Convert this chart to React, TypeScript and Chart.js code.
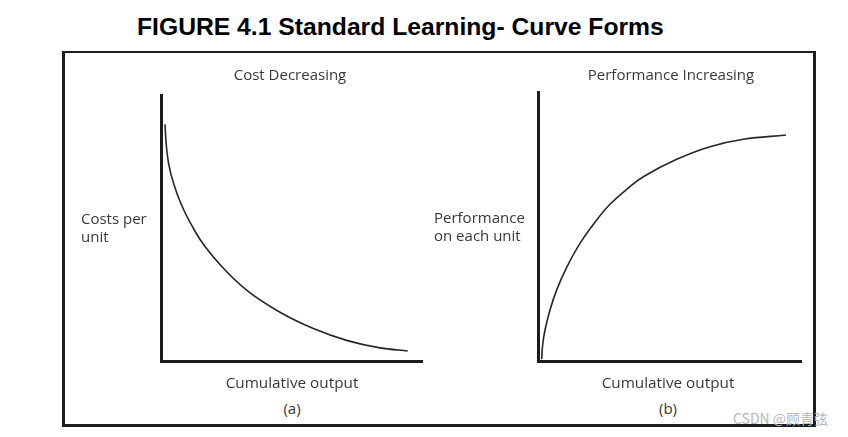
import React, { useEffect, useRef } from "react";
import { Chart, registerables } from "chart.js";

Chart.register(...registerables);

// Panel (a): cost per unit vs cumulative output (axis units 0–100)
const costX = [1.53, 1.95, 2.87, 5.67, 8.74, 12.34, 15.1, 22.76, 32.8, 45.6, 58.4, 71.1, 83.9, 94.5];
const costY = [88.98, 81.95, 74.44, 64.29, 56.77, 50.0, 45.49, 36.09, 26.65, 18.33, 12.19, 7.75, 4.93, 3.76];

// Panel (b): performance on each unit vs cumulative output
const perfX = [1.41, 1.79, 2.66, 4.56, 7.11, 10.91, 15.97, 22.32, 27.38, 33.84, 40.04, 52.74, 65.4, 78.06, 94.3];
const perfY = [0.63, 6.13, 11.52, 18.96, 26.43, 34.83, 43.75, 52.42, 58.25, 63.9, 68.51, 74.98, 79.67, 82.42, 84.01];

const TITLE = "FIGURE 4.1 Standard Learning- Curve Forms";
const panelTitles = ["Cost Decreasing", "Performance Increasing"];
const yLabels = [["Costs per", "unit"], ["Performance", "on each unit"]];
const xLabel = "Cumulative output";
const panelTags = ["(a)", "(b)"];

type Pad = { left: number; top: number; right: number; bottom: number };

function CurveChart({
  xs,
  ys,
  pad,
  style,
  monotone,
}: {
  xs: number[];
  ys: number[];
  pad: Pad;
  style: React.CSSProperties;
  monotone: boolean;
}) {
  const ref = useRef<HTMLCanvasElement | null>(null);
  useEffect(() => {
    if (!ref.current) return;
    const axisBorder = { display: true, width: 3, color: "#1c1c1c" };
    const grid = { display: false, drawTicks: false, tickLength: 0 };
    const chart = new Chart(ref.current, {
      type: "line",
      data: {
        datasets: [
          {
            data: xs.map((x, i) => ({ x, y: ys[i] })),
            borderColor: "#262626",
            borderWidth: 1.6,
            pointRadius: 0,
            fill: false,
            tension: 0.4,
            cubicInterpolationMode: monotone ? "monotone" : "default",
          },
        ],
      },
      options: {
        responsive: false,
        maintainAspectRatio: false,
        animation: false,
        layout: { padding: pad },
        plugins: { legend: { display: false }, tooltip: { enabled: false }, title: { display: false } },
        scales: {
          x: {
            type: "linear",
            min: 0,
            max: 100,
            grid,
            ticks: { display: false, padding: 0 },
            border: axisBorder,
          },
          y: {
            type: "linear",
            min: 0,
            max: 100,
            grid,
            ticks: { display: false, padding: 0 },
            border: axisBorder,
          },
        },
      },
    } as any);
    return () => chart.destroy();
  }, []);
  return <canvas ref={ref} width={300} height={300} style={{ position: "absolute", ...style }} />;
}

const labelFont = "'Open Sans', 'Noto Sans', sans-serif";
const labelColor = "#383838";

function Centered({ x, y, text, size = 15 }: { x: number; y: number; text: string; size?: number }) {
  return (
    <div
      style={{
        position: "absolute",
        left: x,
        top: y,
        transform: "translate(-50%, -50%)",
        whiteSpace: "nowrap",
        fontFamily: labelFont,
        fontSize: size,
        color: labelColor,
        lineHeight: 1,
      }}
    >
      {text}
    </div>
  );
}

export default function App() {
  return (
    <div
      style={{
        position: "absolute",
        left: 0,
        top: 0,
        width: 848,
        height: 437,
        background: "#fff",
        overflow: "hidden",
      }}
    >
      <div
        style={{
          position: "absolute",
          left: 137,
          top: 12,
          fontFamily: "'Liberation Sans', Arial, sans-serif",
          fontWeight: "bold",
          fontSize: 24.7,
          lineHeight: "30px",
          color: "#000",
          whiteSpace: "nowrap",
        }}
      >
        {TITLE}
      </div>
      <div
        style={{
          position: "absolute",
          left: 62,
          top: 51,
          width: 754,
          height: 376,
          boxSizing: "border-box",
          borderLeft: "3px solid #1e1e1e",
          borderRight: "3px solid #1e1e1e",
          borderBottom: "3px solid #1e1e1e",
          borderTop: "2px solid #1e1e1e",
        }}
      />
      <CurveChart xs={costX} ys={costY} monotone={true} pad={{ left: 21, top: 15, right: 18, bottom: 19 }} style={{ left: 140, top: 80 }} />
      <CurveChart xs={perfX} ys={perfY} monotone={false} pad={{ left: 18, top: 12, right: 19, bottom: 19 }} style={{ left: 520, top: 80 }} />

      <Centered x={290} y={74} text={panelTitles[0]} />
      <Centered x={671} y={74} text={panelTitles[1]} />
      <Centered x={292} y={383} text={xLabel} size={15.3} />
      <Centered x={668} y={383} text={xLabel} size={15.3} />
      <Centered x={292} y={408} text={panelTags[0]} />
      <Centered x={668} y={408} text={panelTags[1]} />

      <div style={{ position: "absolute", left: 81, top: 209, fontFamily: labelFont, fontSize: 15, lineHeight: "18px", color: labelColor }}>
        {yLabels[0][0]}
        <br />
        {yLabels[0][1]}
      </div>
      <div style={{ position: "absolute", left: 434, top: 208, fontFamily: labelFont, fontSize: 15, lineHeight: "18px", color: labelColor }}>
        {yLabels[1][0]}
        <br />
        {yLabels[1][1]}
      </div>

      <div
        style={{
          position: "absolute",
          left: 733,
          top: 410,
          fontFamily: "'Noto Sans CJK SC', 'Noto Sans', sans-serif",
          fontSize: 14,
          lineHeight: "17px",
          color: "#b8b8b8",
          whiteSpace: "nowrap",
        }}
      >
        CSDN @顾青弦
      </div>
    </div>
  );
}
